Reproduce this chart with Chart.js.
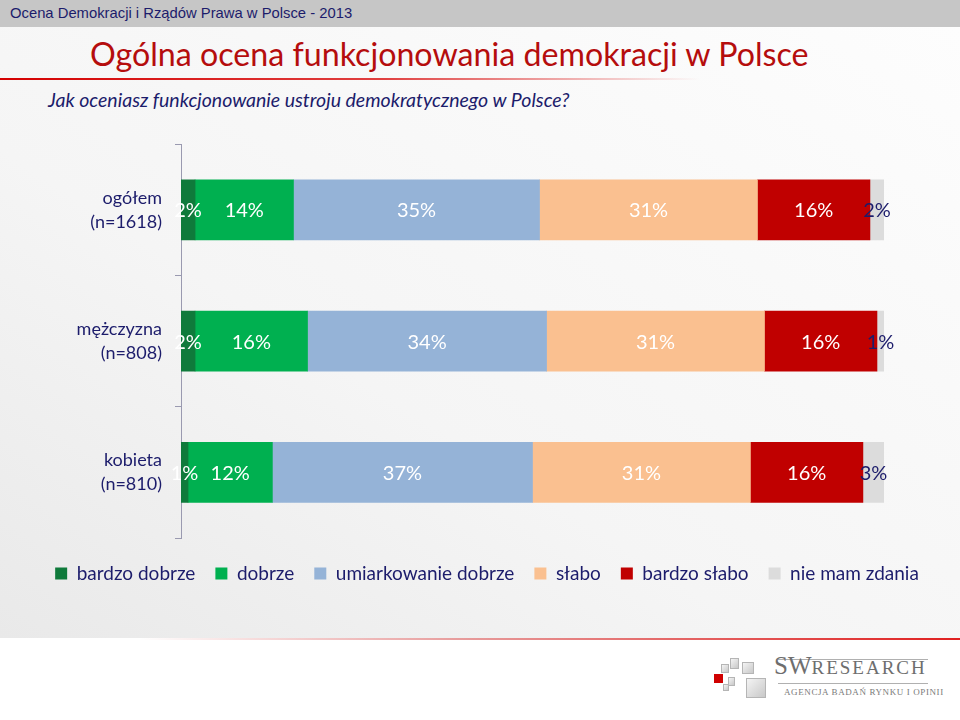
<!DOCTYPE html>
<html>
<head>
<meta charset="utf-8">
<script src="https://cdn.jsdelivr.net/npm/chart.js@4"></script>
<style>
  html, body { margin: 0; padding: 0; }
  body { width: 960px; height: 720px; position: relative; overflow: hidden; background: #fff; font-family: Lato, sans-serif; }
  #topbar { position: absolute; left: 0; top: 0; width: 960px; height: 27px; background: #c6c6c6; }
  #topbar span { position: absolute; left: 10px; top: 5px; font: 14.8px "Liberation Sans", Arial, sans-serif; color: #1c1c6b; }
  #panel { position: absolute; left: 0; top: 27px; width: 960px; height: 611px;
    background: linear-gradient(to top right, #e9e9e9 0%, #f5f5f5 40%, #fdfdfd 100%); }
  #title { position: absolute; left: 90px; top: 34px; font-size: 32.2px; color: #b50d0d; white-space: nowrap; }
  #redline { position: absolute; left: 0; top: 78px; width: 700px; height: 2px;
    background: linear-gradient(to right, #d40000 0%, #e04040 55%, rgba(230,120,120,0) 100%); }
  #subtitle { position: absolute; left: 48px; top: 88px; font-size: 19.5px; font-style: italic; color: #1c1c6b; white-space: nowrap; }
  #bottomline { position: absolute; left: 140px; top: 638px; width: 820px; height: 2px;
    background: linear-gradient(to right, rgba(230,150,150,0) 0%, #e79a9a 40%, #e02020 100%); }
  #chartbox { position: absolute; left: 0; top: 107px; width: 960px; height: 486px; }
  .sq { position: absolute; background: linear-gradient(135deg, #f4f4f4, #c8c8c8); border: 1px solid #b5b5b5; box-sizing: border-box; }
  #sw { position: absolute; left: 774px; top: 652px; font-family: "Liberation Serif", serif; color: #6e6e6e; white-space: nowrap; }
  #sw .big { font-size: 25px; }
  #sw .mid { font-size: 19px; letter-spacing: 2px; }
  .logoline { position: absolute; height: 1px; background: #b0b0b0; }
  #agency { position: absolute; left: 784px; top: 687px; font: 9px "Liberation Serif", serif; color: #7a7a7a; letter-spacing: 0.6px; white-space: nowrap; }
</style>
</head>
<body>
<div id="topbar"><span>Ocena Demokracji i Rządów Prawa w Polsce - 2013</span></div>
<div id="panel"></div>
<div id="title">Ogólna ocena funkcjonowania demokracji w Polsce</div>
<div id="redline"></div>
<div id="subtitle">Jak oceniasz funkcjonowanie ustroju demokratycznego w Polsce?</div>
<div id="chartbox"><canvas id="myChart" width="960" height="486"></canvas></div>
<div id="bottomline"></div>

<div class="sq" style="left:730px;top:658px;width:9px;height:11px;"></div>
<div class="sq" style="left:721px;top:664px;width:8px;height:9px;"></div>
<div class="sq" style="left:742px;top:662px;width:12px;height:12px;"></div>
<div class="sq" style="left:728px;top:677px;width:7px;height:9px;"></div>
<div class="sq" style="left:723px;top:684px;width:6px;height:7px;"></div>
<div class="sq" style="left:746px;top:678px;width:20px;height:20px;"></div>
<div style="position:absolute;left:714px;top:674px;width:9px;height:9px;background:#d00000;"></div>
<div class="logoline" style="left:778px;top:659px;width:150px;"></div>
<div id="sw"><span class="big">SW</span><span class="mid">RESEARCH</span></div>
<div class="logoline" style="left:778px;top:683px;width:150px;"></div>
<div id="agency">AGENCJA BADAŃ RYNKU I OPINII</div>

<script>
// categories and series (percent)
const groups = [['ogółem', '(n=1618)'], ['mężczyzna', '(n=808)'], ['kobieta', '(n=810)']];
const seriesNames = ['bardzo dobrze', 'dobrze', 'umiarkowanie dobrze', 'słabo', 'bardzo słabo', 'nie mam zdania'];
const bardzoDobrze = [2, 2, 1];
const dobrze = [14, 16, 12];
const umiarkowanie = [35, 34, 37];
const slabo = [31, 31, 31];
const bardzoSlabo = [16, 16, 16];
const nieMamZdania = [2, 1, 3];

const seriesValues = [bardzoDobrze, dobrze, umiarkowanie, slabo, bardzoSlabo, nieMamZdania];
const colors = ['#0f7a3b', '#00b050', '#95b3d7', '#fac090', '#c00000', '#dcdcdc'];
const navy = '#1c1c6b';

// labels inside segments
const segmentLabels = {
    id: 'segmentLabels',
    afterDatasetsDraw(chart) {
        const ctx = chart.ctx;
        ctx.save();
        ctx.font = '20px Lato';
        ctx.textAlign = 'center';
        ctx.textBaseline = 'middle';
        chart.data.datasets.forEach((ds, i) => {
            const meta = chart.getDatasetMeta(i);
            meta.data.forEach((bar, j) => {
                const p = bar.getProps(['x', 'y', 'base'], true);
                ctx.fillStyle = i === chart.data.datasets.length - 1 ? navy : '#ffffff';
                ctx.fillText(ds.data[j] + '%', (p.x + p.base) / 2, p.y + 1);
            });
        });
        ctx.restore();
    }
};

const data = {
    labels: groups,
    datasets: seriesNames.map((name, i) => ({
        label: name,
        data: seriesValues[i],
        backgroundColor: colors[i],
        borderWidth: 0,
        barThickness: 60
    }))
};

const config = {
    type: 'bar',
    data,
    options: {
        indexAxis: 'y',
        responsive: false,
        animation: false,
        layout: { padding: { top: 6, right: 0, left: 14, bottom: 0 } },
        scales: {
            x: {
                stacked: true, min: 0, max: 100,
                grid: { display: false }, border: { display: false }, ticks: { display: false },
                afterFit(scale) { scale.height = 6; }
            },
            y: {
                stacked: true,
                afterFit(scale) { scale.width = 167; },
                border: { color: '#9a9ab0', width: 1 },
                grid: { drawOnChartArea: false, drawTicks: true, tickLength: 6, color: '#9a9ab0' },
                ticks: {
                    color: navy,
                    padding: 13,
                    crossAlign: 'near',
                    font: { family: 'Lato', size: 18, lineHeight: 1.35 }
                }
            },
            // empty right axis that keeps the space right of the bars
            yRight: {
                type: 'category',
                position: 'right',
                grid: { display: false }, border: { display: false }, ticks: { display: false },
                afterFit(scale) { scale.width = 76; }
            }
        },
        plugins: {
            tooltip: { enabled: false },
            legend: {
                position: 'bottom',
                labels: {
                    color: navy,
                    boxWidth: 12,
                    boxHeight: 12,
                    padding: 20,
                    font: { family: 'Lato', size: 19 }
                }
            }
        }
    },
    plugins: [segmentLabels]
};

const myChart = new Chart(document.getElementById('myChart'), config);
</script>
</body>
</html>
